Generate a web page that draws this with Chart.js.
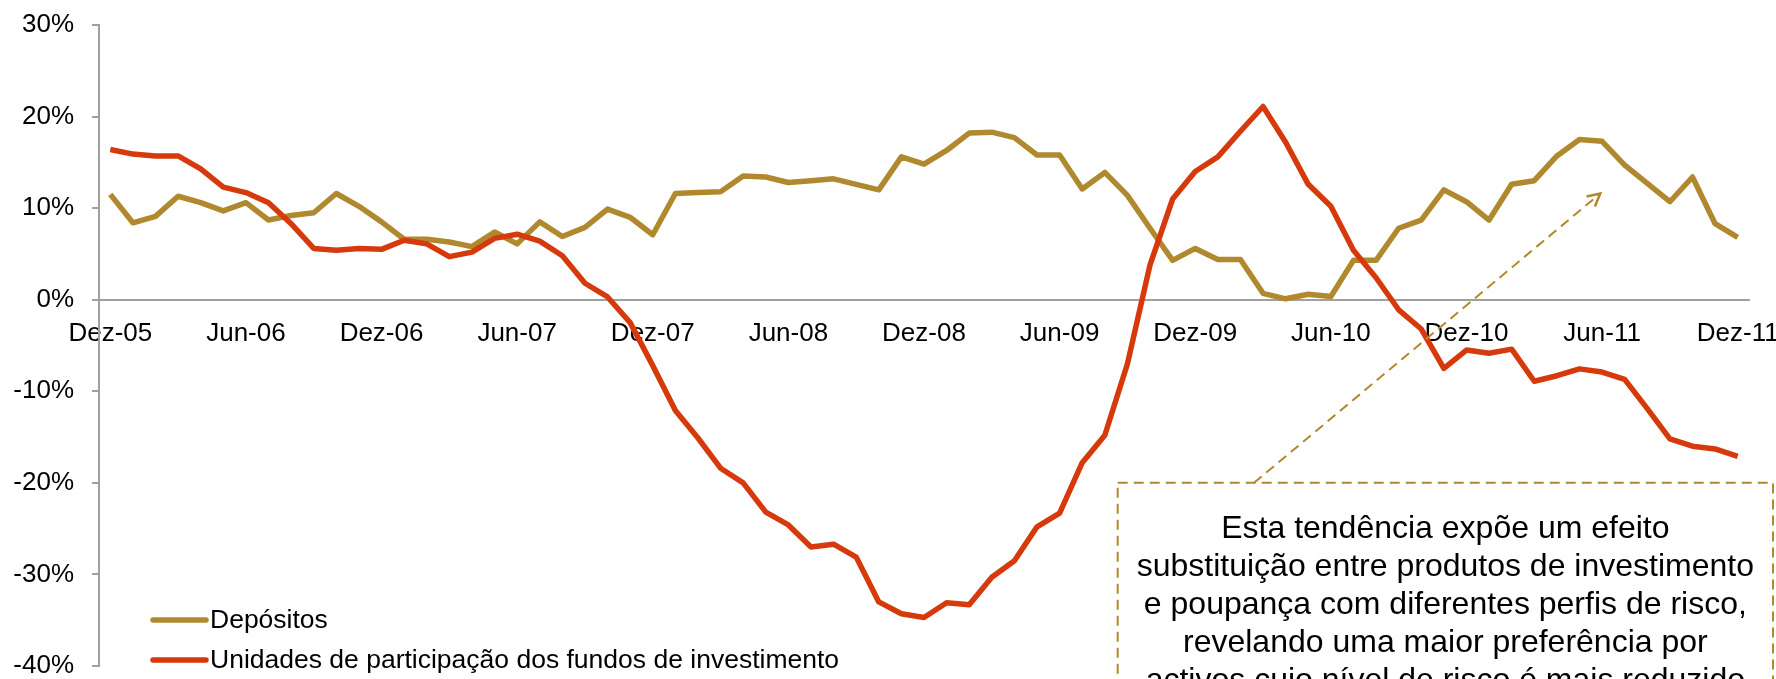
<!DOCTYPE html>
<html>
<head>
<meta charset="utf-8">
<script src="https://cdn.jsdelivr.net/npm/chart.js@4.4.0/dist/chart.umd.min.js"></script>
<style>
  html, body { margin: 0; padding: 0; background: #fff; }
  #wrap { width: 1776px; height: 679px; }
</style>
</head>
<body>
<div id="wrap"><canvas id="chart" width="1776" height="679"></canvas></div>
<script>
// Monthly categories, Dez-05 .. Dez-11
const monthNames = ['Jan', 'Fev', 'Mar', 'Abr', 'Mai', 'Jun', 'Jul', 'Ago', 'Set', 'Out', 'Nov', 'Dez'];
const years = ['05', '06', '07', '08', '09', '10', '11'];
const categories = ['Dez-05'];
for (let y = 1; y < years.length; y++) {
  monthNames.forEach(m => categories.push(m + '-' + years[y]));
}

// Year-on-year change (%)
const depositos = [
  11.5, 8.4, 9.1, 11.3, 10.6, 9.7, 10.6, 8.7, 9.2, 9.5, 11.6, 10.2,
  8.5, 6.6, 6.6, 6.3, 5.8, 7.4, 6.1, 8.5, 6.9, 7.9, 9.9, 9.0,
  7.1, 11.6, 11.7, 11.8, 13.5, 13.4, 12.8, 13.0, 13.2, 12.6, 12.0, 15.6,
  14.8, 16.3, 18.2, 18.3, 17.7, 15.8, 15.8, 12.1, 13.9, 11.4, 7.8, 4.3,
  5.6, 4.4, 4.4, 0.7, 0.1, 0.6, 0.35, 4.3, 4.3, 7.8, 8.7, 12.0,
  10.7, 8.7, 12.6, 13.0, 15.7, 17.5, 17.3, 14.7, 12.7, 10.7, 13.4, 8.3,
  6.8
];
const fundos = [
  16.4, 15.9, 15.7, 15.7, 14.3, 12.3, 11.7, 10.6, 8.3, 5.6, 5.4, 5.6,
  5.5, 6.5, 6.1, 4.7, 5.2, 6.7, 7.15, 6.4, 4.8, 1.8, 0.3, -2.5,
  -7.2, -12.1, -15.1, -18.4, -20.0, -23.2, -24.6, -27.0, -26.7, -28.1, -33.0, -34.3,
  -34.7, -33.1, -33.3, -30.3, -28.5, -24.8, -23.3, -17.8, -14.8, -7.0, 3.8, 11.0,
  14.0, 15.6, 18.4, 21.1, 17.2, 12.6, 10.2, 5.4, 2.4, -1.1, -3.2, -7.5,
  -5.5, -5.85, -5.4, -8.9, -8.3, -7.55, -7.9, -8.7, -11.9, -15.2, -16.0, -16.3,
  -17.1
];

const seriesNames = ['Depósitos', 'Unidades de participação dos fundos de investimento'];
const seriesColors = ['#b0892e', '#d63a0c'];

const noteLines = [
  'Esta tendência expõe um efeito',
  'substituição entre produtos de investimento',
  'e poupança com diferentes perfis de risco,',
  'revelando uma maior preferência por',
  'activos cujo nível de risco é mais reduzido'
];

const FONT = "'Liberation Sans', Arial, sans-serif";
const gold = seriesColors[0];

// dashed call-out box with arrow, anchored on the scales
const notePlugin = {
  id: 'note',
  afterDraw(chart) {
    const { ctx, scales: { x, y } } = chart;
    const left = x.getPixelForValue(44.57);
    const right = chart.width - 3;
    const top = y.getPixelForValue(-20);
    const bottom = chart.height + 20;

    ctx.save();
    ctx.strokeStyle = gold;
    ctx.lineWidth = 2;
    ctx.setLineDash([10, 6]);
    ctx.strokeRect(left, top, right - left, bottom - top);

    // arrow
    const x0 = x.getPixelForValue(50.6), y0 = top;
    const x1 = x.getPixelForValue(65.92), y1 = y.getPixelForValue(11.6);
    ctx.beginPath();
    ctx.moveTo(x0, y0);
    ctx.lineTo(x1, y1);
    ctx.stroke();
    ctx.setLineDash([]);
    const ang = Math.atan2(y1 - y0, x1 - x0);
    const len = 14, spread = 0.48;
    ctx.beginPath();
    ctx.moveTo(x1 - len * Math.cos(ang - spread), y1 - len * Math.sin(ang - spread));
    ctx.lineTo(x1, y1);
    ctx.lineTo(x1 - len * Math.cos(ang + spread), y1 - len * Math.sin(ang + spread));
    ctx.lineWidth = 2.5;
    ctx.stroke();

    // text
    ctx.fillStyle = '#000';
    ctx.font = '32px ' + FONT;
    ctx.textAlign = 'center';
    ctx.textBaseline = 'alphabetic';
    const cx = (left + right) / 2;
    noteLines.forEach((line, i) => {
      ctx.fillText(line, cx, top + 55 + i * 38);
    });
    ctx.restore();
  }
};

// legend drawn inside the plot area, bottom left
const legendPlugin = {
  id: 'innerLegend',
  afterDraw(chart) {
    const { ctx, chartArea } = chart;
    const rows = [chartArea.bottom - 46, chartArea.bottom - 6];
    ctx.save();
    ctx.font = '26.5px ' + FONT;
    ctx.textAlign = 'left';
    ctx.textBaseline = 'middle';
    seriesNames.forEach((name, i) => {
      const yy = rows[i];
      ctx.strokeStyle = seriesColors[i];
      ctx.lineWidth = 5.5;
      ctx.lineCap = 'round';
      ctx.beginPath();
      ctx.moveTo(chartArea.left + 54, yy);
      ctx.lineTo(chartArea.left + 107, yy);
      ctx.stroke();
      ctx.fillStyle = '#000';
      ctx.fillText(name, chartArea.left + 111, yy + 1);
    });
    ctx.restore();
  }
};

Chart.defaults.font.family = FONT;

new Chart(document.getElementById('chart').getContext('2d'), {
  type: 'line',
  data: {
    labels: categories,
    datasets: [
      {
        label: seriesNames[0],
        data: depositos,
        borderColor: seriesColors[0],
        backgroundColor: seriesColors[0],
        borderWidth: 5.5,
        pointRadius: 0,
        tension: 0,
        borderJoinStyle: 'round',
        order: 1
      },
      {
        label: seriesNames[1],
        data: fundos,
        borderColor: seriesColors[1],
        backgroundColor: seriesColors[1],
        borderWidth: 5.5,
        pointRadius: 0,
        tension: 0,
        borderJoinStyle: 'round',
        order: 0
      }
    ]
  },
  options: {
    responsive: false,
    devicePixelRatio: 1,
    animation: false,
    layout: { padding: { top: 25, bottom: 13, left: 0, right: 27 } },
    plugins: {
      legend: { display: false },
      tooltip: { enabled: false }
    },
    scales: {
      x: {
        type: 'category',
        position: { y: 0 },
        offset: true,
        grid: { display: false, drawTicks: false, tickLength: 0 },
        border: { display: true, color: '#a0a0a0', width: 2 },
        ticks: {
          autoSkip: false,
          maxRotation: 0,
          minRotation: 0,
          padding: 19,
          color: '#000',
          font: { size: 26 },
          callback: (value, index) => (index % 6 === 0 ? categories[index] : '')
        },
        afterFit: (s) => { s.paddingLeft = 0; s.paddingRight = 0; }
      },
      y: {
        min: -40,
        max: 30,
        ticks: {
          stepSize: 10,
          padding: 18,
          color: '#000',
          font: { size: 26 },
          callback: (v) => v + '%'
        },
        grid: { drawOnChartArea: false, drawTicks: true, tickLength: 7, color: '#a0a0a0', lineWidth: 2 },
        border: { display: true, color: '#a0a0a0', width: 2 },
        afterFit: (s) => { s.width = 99; s.paddingTop = 0; s.paddingBottom = 0; }
      }
    }
  },
  plugins: [notePlugin, legendPlugin]
});
</script>
</body>
</html>
